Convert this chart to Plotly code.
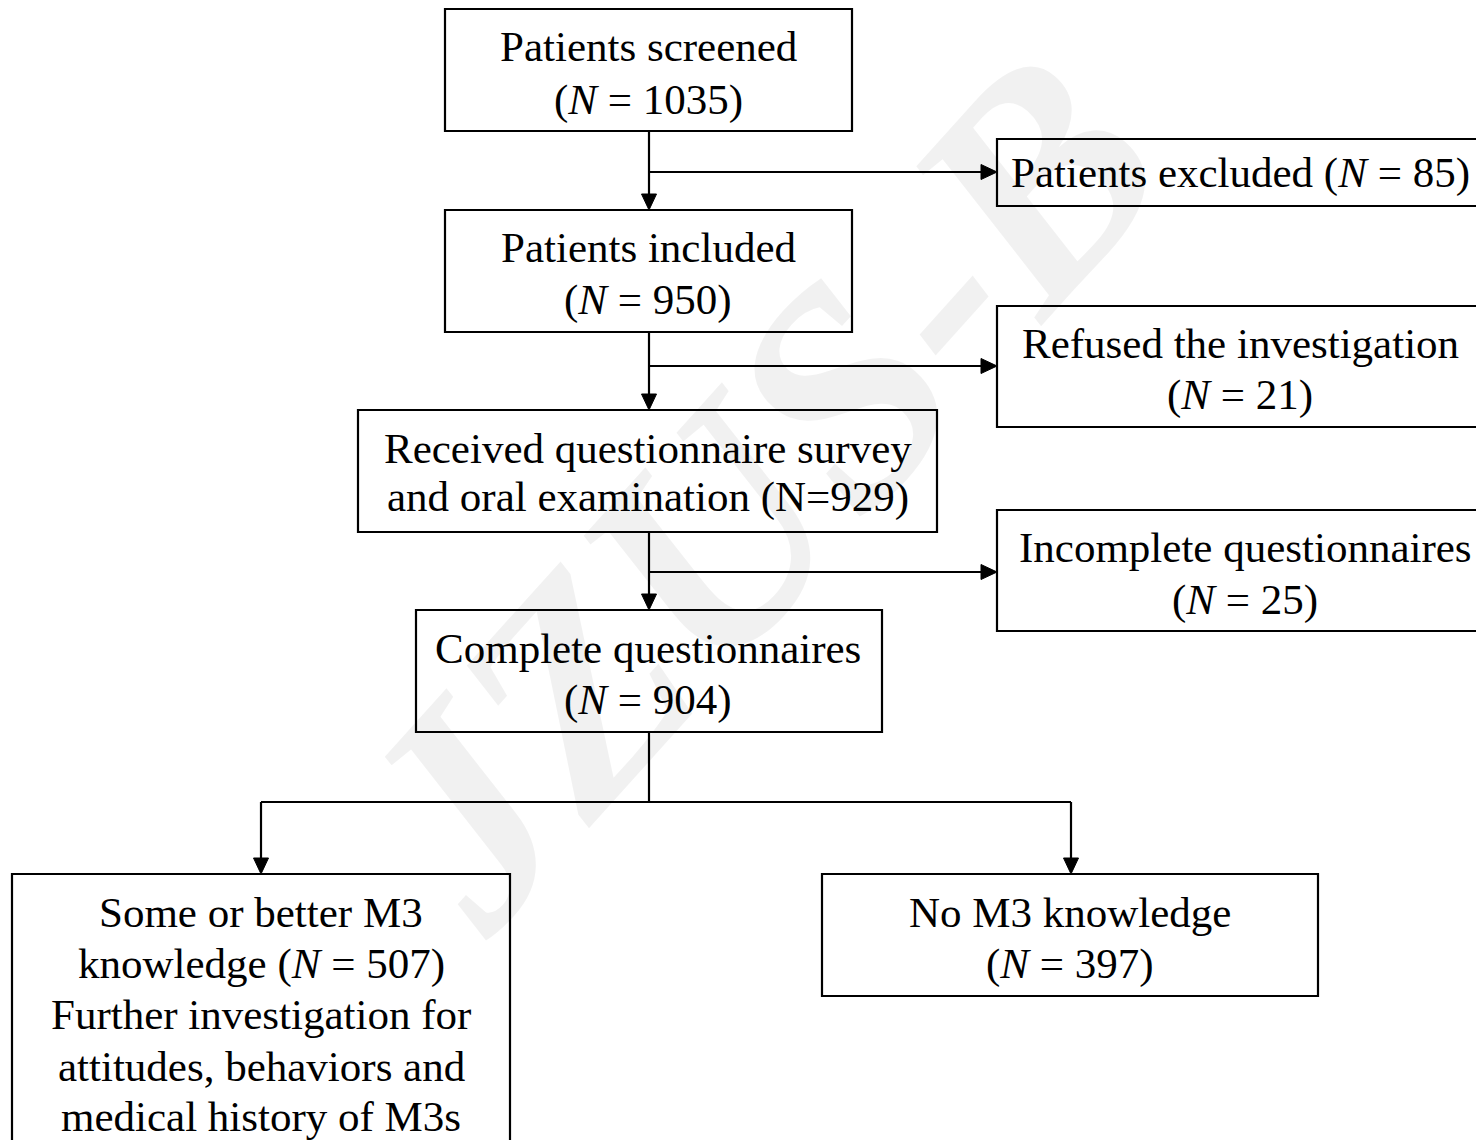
import plotly.graph_objects as go

W, H = 1484, 1148
OFF = 8  # page body margin in the browser
PLOT_H = H - 2 * OFF
FONT = "Liberation Serif, Times New Roman, serif"
FS = 43

# ---- content ----
box_names = ["screened", "excluded", "included", "refused", "received",
             "incomplete", "complete", "some", "none"]
box_lines = [
    ["Patients screened", "(<i>N</i> = 1035)"],
    ["Patients excluded (<i>N</i> = 85)"],
    ["Patients included", "(<i>N</i> = 950)"],
    ["Refused the investigation", "(<i>N</i> = 21)"],
    ["Received questionnaire survey", "and oral examination (N=929)"],
    ["Incomplete questionnaires", "(<i>N</i> = 25)"],
    ["Complete questionnaires", "(<i>N</i> = 904)"],
    ["Some or better M3", "knowledge (<i>N</i> = 507)", "Further investigation for",
     "attitudes, behaviors and", "medical history of M3s"],
    ["No M3 knowledge", "(<i>N</i> = 397)"],
]
watermark = "JZUS-B"

# ---- layout geometry (pixels) ----
box_x0 = [445, 997, 445, 997, 358, 997, 416, 12, 822]
box_x1 = [852, 1482, 852, 1482, 937, 1482, 882, 510, 1318]
box_y0 = [9, 139, 210, 306, 410, 510, 610, 874, 874]
box_y1 = [131, 206, 332, 427, 532, 631, 732, 1160, 996]
text_cx = [648, 1240, 648, 1240, 648, 1245, 648, 261, 1070]
text_y = [[46, 100], [173], [247, 300], [343, 395], [448, 497], [547, 600],
          [648, 700], [912, 964, 1014, 1066, 1116], [912, 964]]

LW = 2.2
shapes = []
annotations = []

annotations.append(dict(x=755, y=490, xref="x", yref="y", text=f"<b><i>{watermark}</i></b>",
                        showarrow=False, textangle=-48,
                        font=dict(family=FONT, size=305, color="rgba(0,0,0,0.055)")))

for i, name in enumerate(box_names):
    shapes.append(dict(type="rect", xref="x", yref="y",
                       x0=box_x0[i], x1=box_x1[i], y0=box_y0[i], y1=box_y1[i],
                       line=dict(color="black", width=LW), fillcolor="rgba(0,0,0,0)"))
    for t, yy in zip(box_lines[i], text_y[i]):
        annotations.append(dict(x=text_cx[i], y=yy, xref="x", yref="y", text=t,
                                showarrow=False, xanchor="center", yanchor="middle",
                                font=dict(family=FONT, size=FS, color="black")))

def line(x0, y0, x1, y1):
    shapes.append(dict(type="line", xref="x", yref="y", x0=x0, y0=y0, x1=x1, y1=y1,
                       line=dict(color="black", width=LW)))

def head(x, y, d, s=16, w=7.5):
    if d == "down":
        p = f"M {x-w},{y-s} L {x+w},{y-s} L {x},{y} Z"
    else:  # right
        p = f"M {x-s},{y-w} L {x-s},{y+w} L {x},{y} Z"
    shapes.append(dict(type="path", xref="x", yref="y", path=p,
                       fillcolor="black", line=dict(color="black", width=1)))

trunk = 649
for top, bot, side_y, side_x in [(131, 210, 172, 997), (332, 410, 366, 997), (532, 610, 572, 997)]:
    line(trunk, top, trunk, bot - 14)
    head(trunk, bot, "down")
    line(trunk, side_y, side_x - 14, side_y)
    head(side_x, side_y, "right")

split_y = 802
line(trunk, 732, trunk, split_y)
line(261, split_y, 1071, split_y)
for xx in (261, 1071):
    line(xx, split_y, xx, 874 - 14)
    head(xx, 874, "down")

fig = go.Figure()
fig.update_layout(
    width=W - OFF, height=PLOT_H, margin=dict(l=0, r=0, t=0, b=0),
    paper_bgcolor="white", plot_bgcolor="white",
    xaxis=dict(range=[OFF, W], visible=False, fixedrange=True),
    yaxis=dict(range=[OFF + PLOT_H, OFF], visible=False, fixedrange=True),
    shapes=shapes, annotations=annotations, showlegend=False,
)
fig.write_html("out.html")
